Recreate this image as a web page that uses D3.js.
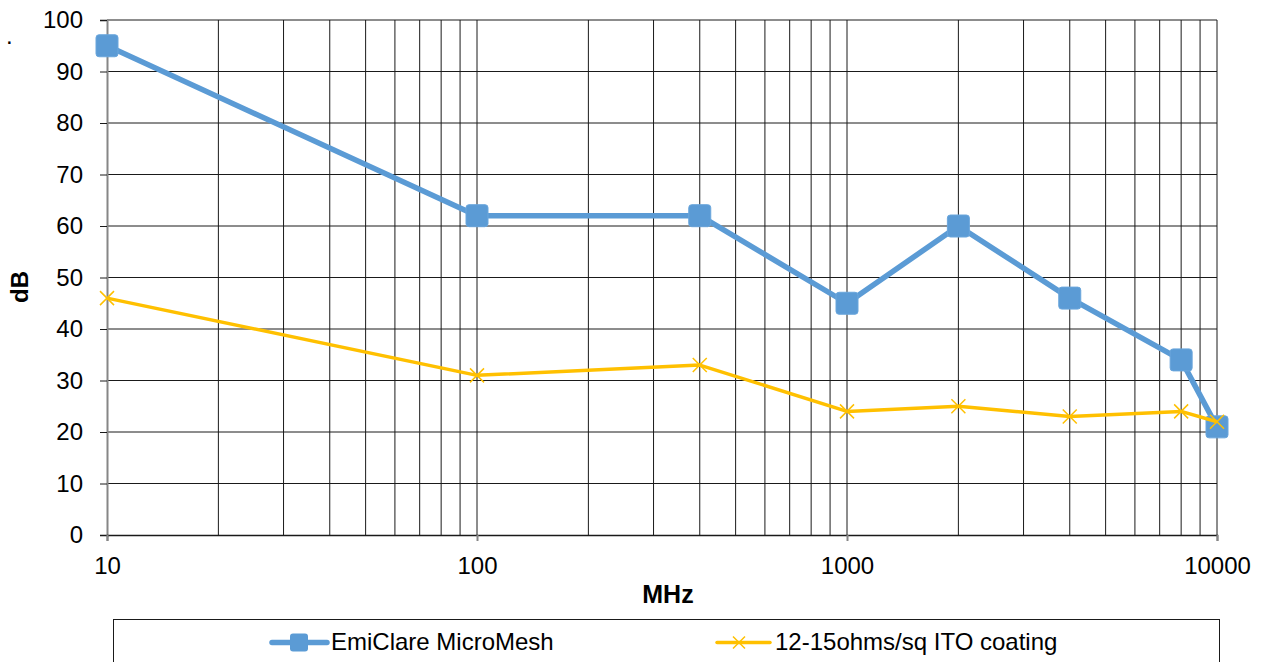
<!DOCTYPE html>
<html><head><meta charset="utf-8">
<script src="https://cdn.jsdelivr.net/npm/d3@7"></script>
<style>body{margin:0;background:#fff;} text{font-family:"Liberation Sans",Arial,sans-serif;}</style>
</head><body>
<svg id="c" width="1270" height="662"></svg>
<script>
const freqs = [10, 100, 400, 1000, 2000, 4000, 8000, 10000];
const micromesh = [95, 62, 62, 45, 60, 46, 34, 21];
const ito = [46, 31, 33, 24, 25, 23, 24, 22];
const seriesNames = ["EmiClare MicroMesh", "12-15ohms/sq ITO coating"];
const xTickLabels = [10, 100, 1000, 10000];
const yTicks = [0,10,20,30,40,50,60,70,80,90,100];

const svg = d3.select("#c");
const L=107, R=1217, T=20, B=535;
const FS=24;
const x = d3.scaleLog().domain([10,10000]).range([L,R]);
const y = d3.scaleLinear().domain([0,100]).range([B,T]);

const vgrid = [];
for (let d=10; d<10000; d*=10) for (let k=1;k<=9;k++) vgrid.push(d*k);
vgrid.push(10000);
svg.append("g").selectAll("line").data(vgrid.filter(v=>v>10)).join("line")
  .attr("x1",d=>x(d)).attr("x2",d=>x(d)).attr("y1",T).attr("y2",B)
  .attr("stroke","#1a1a1a").attr("stroke-width",1);
svg.append("g").selectAll("line").data(yTicks.filter(v=>v>0)).join("line")
  .attr("x1",L).attr("x2",R).attr("y1",d=>y(d)).attr("y2",d=>y(d))
  .attr("stroke","#1a1a1a").attr("stroke-width",1);

const yAxis = d3.axisLeft(y).tickValues(yTicks).tickSize(7).tickPadding(17).tickFormat(d3.format("d"));
const gy = svg.append("g").attr("transform",`translate(${L},0)`).call(yAxis);
gy.select(".domain").attr("stroke","#868686").attr("stroke-width",2);
gy.selectAll(".tick line").attr("stroke","#1a1a1a");
gy.selectAll("text").attr("font-size",FS).attr("fill","#000").attr("font-family","Liberation Sans, Arial, sans-serif");

const xAxis = d3.axisBottom(x).tickValues(xTickLabels).tickSize(6).tickPadding(16).tickFormat(d3.format("d"));
const gx = svg.append("g").attr("transform",`translate(0,${B})`).call(xAxis);
gx.select(".domain").attr("stroke","#1a1a1a").attr("stroke-width",1.5);
gx.selectAll(".tick line").attr("stroke","#868686").attr("stroke-width",2);
gx.selectAll("text").attr("font-size",FS).attr("fill","#000").attr("font-family","Liberation Sans, Arial, sans-serif");

svg.append("text").attr("x",668).attr("y",603).attr("text-anchor","middle")
  .attr("font-size",25).attr("font-weight","bold").text("MHz");
svg.append("text").attr("transform",`translate(28,287) rotate(-90)`).attr("text-anchor","middle")
  .attr("font-size",FS).attr("font-weight","bold").text("dB");
svg.append("text").attr("x",6).attr("y",44).attr("font-size",FS).text(".");

const line = d3.line().x(d=>x(d[0])).y(d=>y(d[1]));
const blueData = freqs.map((f,i)=>[f,micromesh[i]]);
const yelData = freqs.map((f,i)=>[f,ito[i]]);
const blue="#5B9BD5", yel="#FFC000";

svg.append("path").datum(blueData).attr("d",line).attr("fill","none").attr("stroke",blue).attr("stroke-width",5.5).attr("stroke-linejoin","round");
svg.append("g").selectAll("rect").data(blueData).join("rect")
  .attr("x",d=>x(d[0])-11).attr("y",d=>y(d[1])-11).attr("width",22).attr("height",22).attr("rx",3)
  .attr("fill",blue).attr("stroke","#6aa6dc").attr("stroke-width",1);

svg.append("path").datum(yelData).attr("d",line).attr("fill","none").attr("stroke",yel).attr("stroke-width",3.5).attr("stroke-linejoin","round");
const xm = (sel,s)=>sel.attr("d",`M${-s},${-s}L${s},${s}M${-s},${s}L${s},${-s}`).attr("stroke",yel).attr("stroke-width",1.5).attr("fill","none");
svg.append("g").selectAll("path").data(yelData).join("path")
  .attr("transform",d=>`translate(${x(d[0])},${y(d[1])})`).call(xm,7);

svg.append("rect").attr("x",113.5).attr("y",619.5).attr("width",1106).attr("height",60)
  .attr("fill","#fff").attr("stroke","#1a1a1a").attr("stroke-width",1);
const lg = svg.append("g");
lg.append("line").attr("x1",272).attr("x2",327).attr("y1",642.5).attr("y2",642.5).attr("stroke",blue).attr("stroke-width",5.5).attr("stroke-linecap","round");
lg.append("rect").attr("x",290).attr("y",633.5).attr("width",18).attr("height",18).attr("rx",3).attr("fill",blue);
lg.append("text").attr("x",331).attr("y",650).attr("font-size",FS).text(seriesNames[0]);
lg.append("line").attr("x1",717).attr("x2",770).attr("y1",642.5).attr("y2",642.5).attr("stroke",yel).attr("stroke-width",3.5).attr("stroke-linecap","round");
lg.append("path").attr("transform","translate(739,642.5)").call(xm,6);
lg.append("text").attr("x",775).attr("y",650).attr("font-size",FS).text(seriesNames[1]);
</script>
</body></html>
